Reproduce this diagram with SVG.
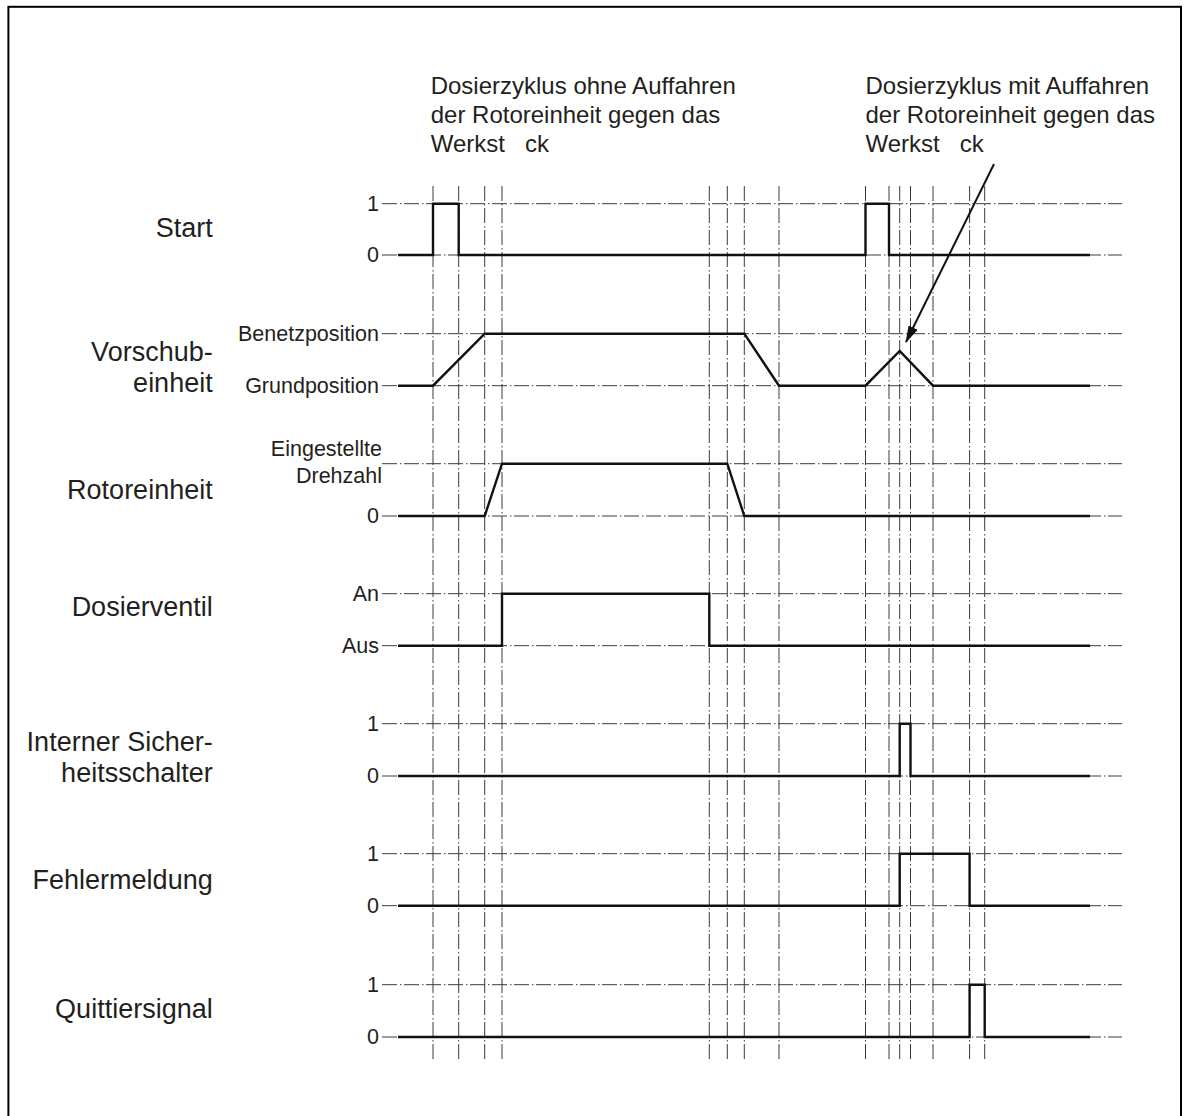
<svg xmlns="http://www.w3.org/2000/svg" width="1185" height="1116" viewBox="0 0 1185 1116">
<defs>
<style>
.frame{fill:none;stroke:#000;stroke-width:2}
.grid{stroke:#3a3a3a;stroke-width:1;fill:none;stroke-dasharray:15 3 1.5 2.5}
.sig{fill:none;stroke:#111;stroke-width:2.4;stroke-linejoin:miter}
.lbl{font-family:"Liberation Sans",Arial,sans-serif;font-size:27px;fill:#231f20;text-anchor:end}
.lvl{font-family:"Liberation Sans",Arial,sans-serif;font-size:21.5px;fill:#231f20;text-anchor:end}
.ttl{font-family:"Liberation Sans",Arial,sans-serif;font-size:24px;fill:#231f20}
.arr{stroke:#111;stroke-width:2;fill:none}
</style>
<marker id="ah" markerWidth="17" markerHeight="10" refX="16" refY="5" orient="auto" markerUnits="userSpaceOnUse" viewBox="0 0 17 10">
<path d="M0,0 L17,5 L0,10 Z" fill="#111"/>
</marker>
</defs>
<rect width="1185" height="1116" fill="#fff"/>
<rect class="frame" x="8.4" y="6.8" width="1172.6" height="1200"/>

<g id="grid">
<g id="vgrid" class="grid">
<line x1="433" y1="186" x2="433" y2="1059"/>
<line x1="458.7" y1="186" x2="458.7" y2="1059"/>
<line x1="484.7" y1="186" x2="484.7" y2="1059"/>
<line x1="502" y1="186" x2="502" y2="1059"/>
<line x1="709.3" y1="186" x2="709.3" y2="1059"/>
<line x1="727.3" y1="186" x2="727.3" y2="1059"/>
<line x1="744.3" y1="186" x2="744.3" y2="1059"/>
<line x1="779" y1="186" x2="779" y2="1059"/>
<line x1="865.5" y1="186" x2="865.5" y2="1059"/>
<line x1="889" y1="186" x2="889" y2="1059"/>
<line x1="899.7" y1="186" x2="899.7" y2="1059"/>
<line x1="910.5" y1="186" x2="910.5" y2="1059"/>
<line x1="933" y1="186" x2="933" y2="1059"/>
<line x1="969.6" y1="186" x2="969.6" y2="1059"/>
<line x1="984.7" y1="186" x2="984.7" y2="1059"/>
</g>
<g id="hgrid" class="grid">
<line x1="382" y1="203.7" x2="1122" y2="203.7"/>
<line x1="382" y1="255" x2="1122" y2="255"/>
<line x1="382" y1="333.7" x2="1122" y2="333.7"/>
<line x1="382" y1="385.7" x2="1122" y2="385.7"/>
<line x1="382" y1="463.7" x2="1122" y2="463.7"/>
<line x1="382" y1="516" x2="1122" y2="516"/>
<line x1="382" y1="593.7" x2="1122" y2="593.7"/>
<line x1="382" y1="645.7" x2="1122" y2="645.7"/>
<line x1="382" y1="723.7" x2="1122" y2="723.7"/>
<line x1="382" y1="776" x2="1122" y2="776"/>
<line x1="382" y1="853.7" x2="1122" y2="853.7"/>
<line x1="382" y1="905.7" x2="1122" y2="905.7"/>
<line x1="382" y1="984.7" x2="1122" y2="984.7"/>
<line x1="382" y1="1037" x2="1122" y2="1037"/>
</g>
</g>

<g id="title1">
<text class="ttl" x="430.7" y="94">Dosierzyklus ohne Auffahren</text>
<text class="ttl" x="430.7" y="123">der Rotoreinheit gegen das</text>
<text class="ttl" x="430.7" y="152" xml:space="preserve">Werkst   ck</text>
</g>
<g id="title2">
<text class="ttl" x="865.5" y="94">Dosierzyklus mit Auffahren</text>
<text class="ttl" x="865.5" y="123">der Rotoreinheit gegen das</text>
<text class="ttl" x="865.5" y="152" xml:space="preserve">Werkst   ck</text>
</g>

<g id="start">
<text class="lbl" x="212.7" y="237">Start</text>
<text class="lvl" x="379" y="211">1</text>
<text class="lvl" x="379" y="262">0</text>
<path class="sig" d="M398,255 H433 V203.7 H458.7 V255 H865.5 V203.7 H889 V255 H1090"/>
</g>

<g id="vorschubeinheit">
<text class="lbl" x="212.7" y="361">Vorschub-</text>
<text class="lbl" x="212.7" y="392">einheit</text>
<text class="lvl" x="379" y="341">Benetzposition</text>
<text class="lvl" x="379" y="393">Grundposition</text>
<path class="sig" d="M398,385.7 H433 L484.7,333.7 H744.3 L779,385.7 H865.5 L899.7,351 L933,385.7 H1090"/>
</g>

<g id="rotoreinheit">
<text class="lbl" x="212.7" y="499">Rotoreinheit</text>
<text class="lvl" x="382" y="456">Eingestellte</text>
<text class="lvl" x="382" y="483">Drehzahl</text>
<text class="lvl" x="379" y="523">0</text>
<path class="sig" d="M398,516 H484.7 L502,463.7 H727.3 L744.3,516 H1090"/>
</g>

<g id="dosierventil">
<text class="lbl" x="212.7" y="616">Dosierventil</text>
<text class="lvl" x="379" y="601">An</text>
<text class="lvl" x="379" y="653">Aus</text>
<path class="sig" d="M398,645.7 H502 V593.7 H709.3 V645.7 H1090"/>
</g>

<g id="sicherheitsschalter">
<text class="lbl" x="212.7" y="751">Interner Sicher-</text>
<text class="lbl" x="212.7" y="782">heitsschalter</text>
<text class="lvl" x="379" y="731">1</text>
<text class="lvl" x="379" y="783">0</text>
<path class="sig" d="M398,776 H899.7 V723.7 H910.5 V776 H1090"/>
</g>

<g id="fehlermeldung">
<text class="lbl" x="212.7" y="889">Fehlermeldung</text>
<text class="lvl" x="379" y="861">1</text>
<text class="lvl" x="379" y="913">0</text>
<path class="sig" d="M398,905.7 H899.7 V853.7 H969.6 V905.7 H1090"/>
</g>

<g id="quittiersignal">
<text class="lbl" x="212.7" y="1018">Quittiersignal</text>
<text class="lvl" x="379" y="992">1</text>
<text class="lvl" x="379" y="1044">0</text>
<path class="sig" d="M398,1037 H969.6 V984.7 H984.7 V1037 H1090"/>
</g>

<g id="connectors">
<line class="arr" x1="994" y1="164" x2="906" y2="342" marker-end="url(#ah)"/>
</g>
</svg>
